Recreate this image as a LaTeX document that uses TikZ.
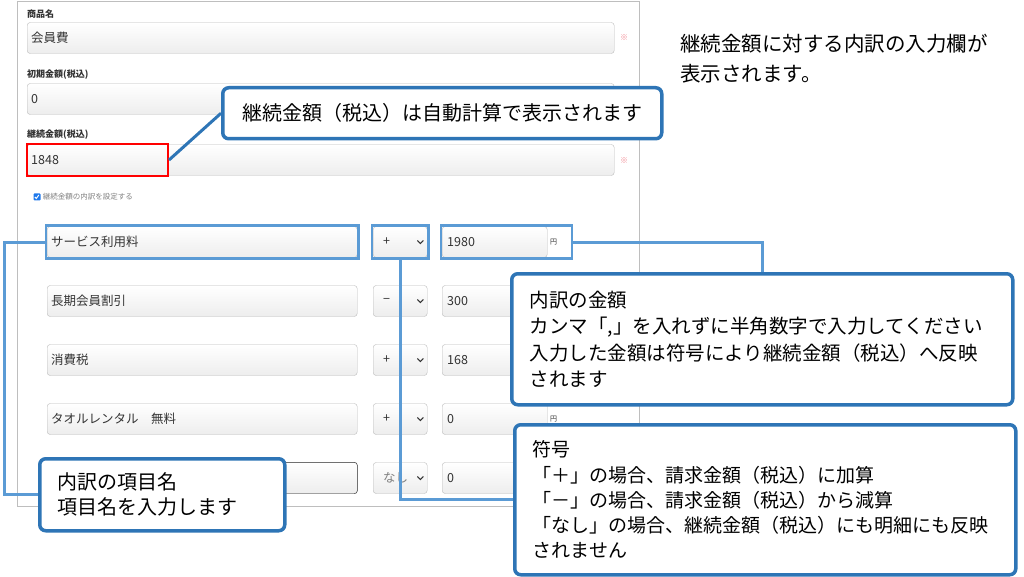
\documentclass[tikz,border=0pt]{standalone}
\usepackage{fontspec}
\setmainfont{Noto Sans CJK JP}
\usetikzlibrary{positioning,fit}
\definecolor{calloutblue}{RGB}{46,117,182}
\definecolor{lineblue}{RGB}{91,155,213}
\definecolor{fieldgray}{RGB}{185,185,185}
\definecolor{panelgray}{RGB}{190,190,190}
\definecolor{textgray}{RGB}{51,51,51}
\definecolor{notepink}{RGB}{240,130,140}
\definecolor{chkblue}{RGB}{30,120,235}
\tikzset{field/.style={draw=fieldgray,rounded corners=3pt,top color=white,bottom color=black!7,minimum height=31pt,inner ysep=0pt,inner xsep=4pt,align=left,anchor=west,text=textgray,font=\fontsize{12.5}{12.5}\selectfont}}
\tikzset{bigfield/.style={field,text width=579pt}}
\tikzset{namefield/.style={field,text width=302pt}}
\tikzset{selfield/.style={field,inner xsep=10pt,text width=34pt}}
\tikzset{amtfield/.style={field,inner xsep=5pt,text width=95pt}}
\tikzset{yen/.style={anchor=west,inner sep=0pt,text=textgray,font=\fontsize{7}{7}\selectfont}}
\tikzset{chev/.style={textgray,line width=1.1pt}}
\tikzset{lbl/.style={anchor=west,inner sep=0pt,text=textgray,font=\fontsize{9}{9}\selectfont\bfseries}}
\tikzset{note/.style={inner sep=0pt,text=notepink,font=\fontsize{8}{8}\selectfont}}
\tikzset{hl/.style={draw=lineblue,line width=2.5pt,inner sep=1pt}}
\tikzset{conn/.style={lineblue,line width=3pt}}
\tikzset{callout/.style={draw=calloutblue,line width=3.5pt,rounded corners=6pt,fill=white,anchor=north west,align=left,inner ysep=0pt}}
\begin{document}
\begin{tikzpicture}[x=1pt,y=-1pt]
  \useasboundingbox (0,0) rectangle (1024,577);
  \draw[panelgray] (17,1) rectangle (639,506);

  % upper form
  \node[lbl] at (27,14) {商品名};
  \node[bigfield] (goods) at (27,38) {会員費};
  \node[note] at (624,38) {※};
  \node[lbl] at (27,75) {初期金額(税込)};
  \node[bigfield] (first) at (27,99) {0};
  \node[lbl] at (27,135) {継続金額(税込)};
  \node[bigfield] (cont) at (27,160) {1848};
  \node[note] at (624,161) {※};
  \node[draw=red,line width=2pt,anchor=north west,minimum width=141pt,minimum height=32pt,inner sep=0pt] (total) at (26,143) {};

  \node[fill=chkblue,rounded corners=1pt,minimum size=7pt,inner sep=0pt] (chk) at (37,197) {};
  \draw[white,line width=1pt] (chk.west) ++(1.5,0) -- ++(1.5,1.5) -- ++(2.5,-3.5);
  \node[right=2pt of chk,inner sep=0pt,text=gray,font=\fontsize{7.5}{7.5}\selectfont] {継続金額の内訳を設定する};

  % breakdown rows
  \foreach \i/\y/\name/\sign/\amt/\unit in {1/242/サービス利用料/+/1980/円,2/301/長期会員割引/−/300/,3/360/消費税/+/168/,4/419/タオルレンタル　無料/+/0/円,5/478//{\color{gray}なし}/0/}{
    \node[namefield] (name\i) at (47,\y) {\name};
    \node[selfield] (sel\i) at (373,\y) {\sign};
    \draw[chev] ([xshift=-7pt]sel\i.east) ++(-3,-1.5) -- ++(3,3) -- ++(3,-3);
    \node[amtfield] (amt\i) at (442,\y) {\amt};
    \node[yen] (yen\i) at (550,\y) {\unit};
  }
  \draw[textgray,rounded corners=3pt] (name5.north west) rectangle (name5.south east);

  \coordinate (amtend) at (571,242);
  \node[hl,fit=(name1)] (namebox) {};
  \node[hl,fit=(sel1)] (selbox) {};
  \node[hl,fit=(amt1)(amtend)] (amtbox) {};

  % callouts
  \node[callout,align=center,inner xsep=0pt,minimum width=439pt,minimum height=51pt,font=\fontsize{20}{20}\selectfont] (callA) at (221,86) {継続金額（税込）は自動計算で表示されます};
  \node[callout,inner xsep=18pt,text width=465pt,minimum height=131pt,font=\fontsize{19.5}{26.3}\selectfont] (callB) at (510,272) {内訳の金額\\カンマ「,」を入れずに半角数字で入力してください\\入力した金額は符号により継続金額（税込）へ反映\\されます};
  \node[callout,inner xsep=18pt,text width=465pt,minimum height=150pt,font=\fontsize{19}{25.3}\selectfont] (callC) at (513,423) {符号\\「＋」の場合、請求金額（税込）に加算\\「－」の場合、請求金額（税込）から減算\\「なし」の場合、継続金額（税込）にも明細にも反映\\されません};
  \node[callout,inner xsep=18pt,text width=209pt,minimum height=72pt,font=\fontsize{20}{25}\selectfont] (callD) at (38,457) {内訳の項目名\\項目名を入力します};

  \coordinate (bend) at (4,242);
  \draw[calloutblue,line width=3pt] (total.east) -- (callA.west);
  \draw[conn] (amtbox.east) -| (callB.north);
  \draw[conn] (selbox.south) |- (callC.west);
  \draw[conn] (namebox.west) -- (bend) |- (callD.west);

  \node[anchor=north west,align=left,inner sep=0pt,font=\fontsize{20.5}{30}\selectfont] (intro) at (680,34) {継続金額に対する内訳の入力欄が\\表示されます。};
\end{tikzpicture}
\end{document}
